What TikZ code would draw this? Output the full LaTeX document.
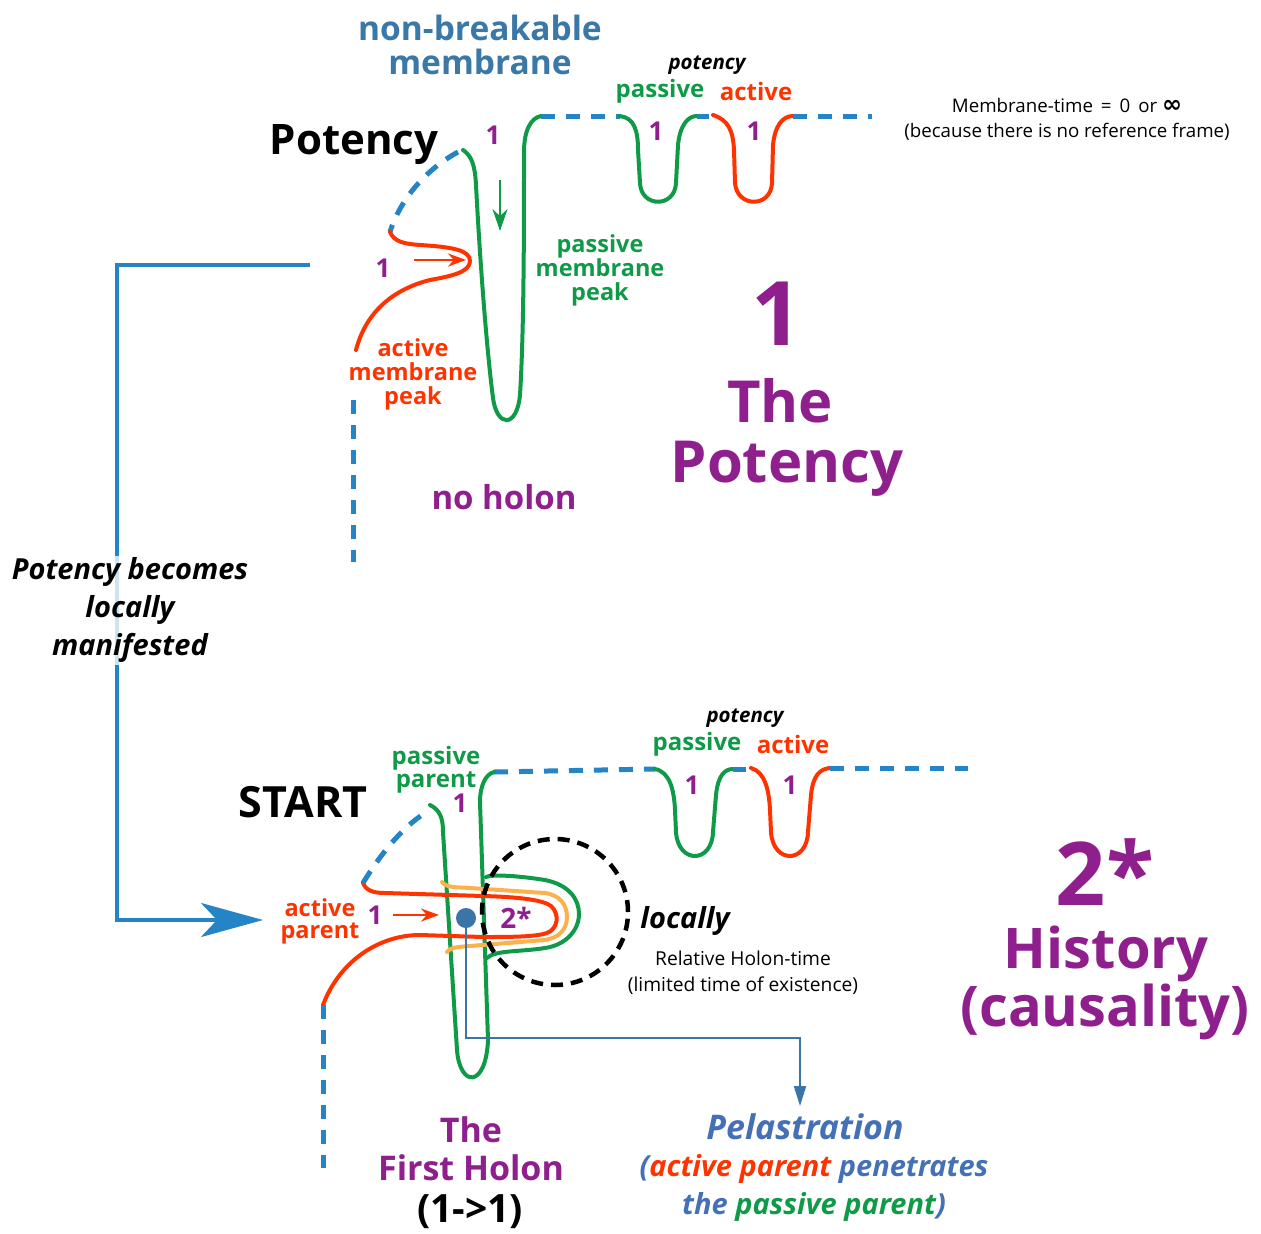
\documentclass[tikz,border=0pt]{standalone}
\usepackage{fontspec}
\setmainfont{Open Sans}
\newfontfamily\dejavu{DejaVu Sans}
\usetikzlibrary{arrows.meta}
\definecolor{cgreen}{HTML}{0F9A48}
\definecolor{cred}{HTML}{FF3300}
\definecolor{cpurple}{HTML}{901F8E}
\definecolor{cdash}{HTML}{2484C5}
\definecolor{ctitle}{HTML}{3A78A8}
\definecolor{corange}{HTML}{FBB24C}
\definecolor{cdot}{HTML}{3B74A6}
\definecolor{cpel}{HTML}{4470B6}
\newcommand\fsz[2]{\fontsize{#1}{#2}\selectfont}
\tikzset{
  lbl/.style={inner sep=0pt, align=center},
  memb/.style={line width=4pt, line cap=round},
  dmemb/.style={line width=5pt, cdash, dash pattern=on 14pt off 11pt},
  smallarrow/.style={line width=2.2pt, -{Stealth[length=18pt,width=13pt]}},
}
\begin{document}
\begin{tikzpicture}[x=1pt,y=-1pt]
\useasboundingbox (0,0) rectangle (1261,1234);

% ---------------- TOP: potency ----------------
\node[lbl, text=ctitle, font=\fsz{33.5}{34}\bfseries] (nbm) at (480,45) {non-breakable\\membrane};
\node[lbl, font=\fsz{42}{44}\bfseries] (potency) at (354,145) {Potency};
\node[lbl, text=cpurple, font=\fsz{26}{28}\bfseries] (one1) at (493,135) {1};

% passive membrane peak
\draw[memb, cgreen] (463,150) .. controls (472,156) and (475,166) .. (476,185)
  .. controls (481,280) and (488,360) .. (493,398)
  .. controls (497,428) and (517,428) .. (520,395)
  .. controls (524,330) and (524,230) .. (524,152)
  .. controls (524,130) and (531,118) .. (541,116);
\coordinate (gtop) at (541,116);
\coordinate (gu1) at (620,116);
\draw[dmemb] (gtop) -- (gu1);
% potency U's
\draw[memb, cgreen] (gu1) .. controls (634,118) and (638,130) .. (638,150) -- (640,183)
  .. controls (641,208) and (675,208) .. (676,183) -- (678,145)
  .. controls (680,125) and (688,116) .. (697,116) coordinate (gu2);
\coordinate (ru1) at (713,115);
\draw[line width=5pt, cdash] (gu2) -- (709,116);
\draw[memb, cred] (ru1) .. controls (728,120) and (733,130) .. (734,150) -- (735,183)
  .. controls (737,208) and (771,208) .. (772,183) -- (773,145)
  .. controls (775,125) and (783,116) .. (793,116) coordinate (ru2);
\coordinate (tend) at (872,116);
\draw[dmemb] (ru2) -- (tend);
\node[lbl, text=cpurple, font=\fsz{26}{28}\bfseries] (one2) at (656,131) {1};
\node[lbl, text=cpurple, font=\fsz{26}{28}\bfseries] (one3) at (754,131) {1};
\node[lbl, font=\fsz{20.5}{22}\bfseries\itshape] (potsm) at (707,65) {potency};
\node[lbl, text=cgreen, font=\fsz{24}{24}\bfseries] (pas1) at (660,91) {passive};
\node[lbl, text=cred, font=\fsz{24}{24}\bfseries] (act1) at (756,91) {active};

% active membrane peak
\coordinate (arcA) at (458,152);
\coordinate (arcB) at (390,232);
\draw[dmemb] (arcA) .. controls (425,170) and (400,200) .. (arcB);
\coordinate (redend) at (356,350);
\draw[memb, cred] (arcB) .. controls (394,242) and (405,244) .. (420,245)
  .. controls (452,247) and (470,250) .. (470,261)
  .. controls (470,272) and (452,276) .. (430,280)
  .. controls (390,290) and (365,315) .. (redend);
\coordinate (vd1) at (353,400);
\coordinate (vd2) at (353,562);
\draw[dmemb] (vd1) -- (vd2);
\coordinate (ra1) at (414,260);
\coordinate (ra2) at (466,260);
\draw[smallarrow, cred] (ra1) -- (ra2);
\node[lbl, text=cpurple, font=\fsz{26}{28}\bfseries] (one4) at (383,268) {1};
\coordinate (ga1) at (500,180);
\coordinate (ga2) at (500,231);
\draw[line width=2.2pt, cgreen, -{Stealth[length=22pt,width=15pt]}] (ga1) -- (ga2);

\node[lbl, text=cgreen, font=\fsz{23.5}{24}\bfseries] (pmp) at (600,270) {passive\\membrane\\peak};
\node[lbl, text=cred, font=\fsz{23.5}{24}\bfseries] (amp) at (413,374) {active\\membrane\\peak};
\node[lbl, text=cpurple, font=\fsz{33}{34}\bfseries] (noholon) at (504,497) {no holon};

\node[lbl, text=cpurple, font=\fsz{89}{90}\bfseries, anchor=base] (bigone) at (777,345) {1};
\node[lbl, text=cpurple, font=\fsz{58}{62}\bfseries, anchor=base] (the1) at (780,422) {The};
\node[lbl, text=cpurple, font=\fsz{58}{62}\bfseries, anchor=base] (pot1) at (787,482) {Potency};

\node[lbl, font=\fsz{18.7}{25}] (mtime) at (1067,119) {Membrane-time \,=\, 0 \,or {\dejavu\bfseries\fontsize{24}{25}\selectfont ∞}\\(because there is no reference frame)};

% ---------------- connector ----------------
\coordinate (cstart) at (310,265);
\coordinate (cend) at (263,920);
\draw[line width=4pt, cdash, -{Stealth[length=62pt,width=34pt,inset=16pt]}]
  (cstart) -- (117,265) -- (117,920) -- (cend);
\node[lbl, font=\fsz{29}{38}\bfseries\itshape, fill=white, fill opacity=0.78, text opacity=1, inner sep=2pt] (pbl) at (130,610)
  {Potency becomes\\locally\\manifested};

% ---------------- BOTTOM: start ----------------
\node[lbl, font=\fsz{43}{44}\bfseries] (start) at (303,802) {START};
\node[lbl, text=cgreen, font=\fsz{24}{23}\bfseries] (pp) at (436,770) {passive\\parent};
\node[lbl, text=cpurple, font=\fsz{26}{28}\bfseries] (one5) at (460,803) {1};

\coordinate (bu0) at (494,772);
\coordinate (bu1) at (655,769);
\draw[dmemb] (bu0) -- (bu1);
\draw[memb, cgreen] (bu1) .. controls (670,772) and (674,790) .. (675,810) -- (676,832)
  .. controls (678,864) and (712,864) .. (713,832) -- (716,795)
  .. controls (718,775) and (725,769) .. (733,769) coordinate (bu2);
\coordinate (bu3) at (751,768);
\draw[line width=5pt, cdash] (bu2) -- (746,769);
\draw[memb, cred] (bu3) .. controls (765,772) and (769,790) .. (770,810) -- (771,832)
  .. controls (773,864) and (807,864) .. (808,832) -- (811,795)
  .. controls (813,775) and (820,769) .. (830,768) coordinate (bu4);
\coordinate (bend) at (968,768);
\draw[dmemb] (bu4) -- (bend);
\node[lbl, text=cpurple, font=\fsz{26}{28}\bfseries] (one6) at (692,785) {1};
\node[lbl, text=cpurple, font=\fsz{26}{28}\bfseries] (one7) at (790,785) {1};
\node[lbl, font=\fsz{20.5}{22}\bfseries\itshape] (potsm2) at (745,718) {potency};
\node[lbl, text=cgreen, font=\fsz{24}{24}\bfseries] (pas2) at (697,744) {passive};
\node[lbl, text=cred, font=\fsz{24}{24}\bfseries] (act2) at (793,744) {active};

% passive parent
\draw[memb, cgreen] (430,805) .. controls (440,810) and (443,818) .. (443,832) -- (457,1050)
  .. controls (460,1088) and (486,1088) .. (488,1040) -- (480,802)
  .. controls (480,785) and (486,774) .. (bu0);
% orange holon
\draw[line width=4pt, corange, line cap=round] (442,882) .. controls (447,888) and (455,887) .. (470,888) -- (545,893)
  .. controls (560,895) and (567,905) .. (567,917) .. controls (567,930) and (558,938) .. (545,940)
  -- (470,946) .. controls (455,947) and (450,948) .. (447,952);
% active parent
\coordinate (barcA) at (363,883);
\coordinate (barcB) at (422,815);
\coordinate (bredend) at (323,1005);
\draw[memb, cred] (barcA) .. controls (366,890) and (372,893) .. (385,893) -- (483,896)
  .. controls (520,897) and (543,900) .. (551,906)
  .. controls (560,914) and (558,929) .. (547,933)
  .. controls (535,937) and (510,937) .. (483,937) -- (420,935)
  .. controls (380,935) and (340,960) .. (bredend);
% green bulge
\draw[memb, cgreen] (486,877) .. controls (492,874) and (520,876) .. (545,880)
  .. controls (570,885) and (579,900) .. (579,914) .. controls (579,930) and (566,945) .. (545,948)
  .. controls (520,952) and (495,950) .. (487,958);
\draw[dmemb] (barcA) .. controls (380,855) and (400,830) .. (barcB);
\coordinate (bvd) at (323,1168);
\draw[dmemb] (bredend) -- (bvd);

% locally circle
\node[draw, circle, minimum size=146pt, line width=4.5pt, dash pattern=on 12pt off 8pt, inner sep=0pt] (loc) at (555,912) {};

\coordinate (rb1) at (393,915);
\coordinate (rb2) at (439,915);
\draw[smallarrow, cred] (rb1) -- (rb2);
\node[lbl, text=cpurple, font=\fsz{26}{28}\bfseries] (one8) at (375,915) {1};
\node[lbl, text=cred, font=\fsz{23.5}{22}\bfseries] (ap) at (320,921) {active\\parent};
\node[lbl, text=cpurple, font=\fsz{28}{28}\bfseries] (twostar) at (516,918) {2*};

\node[circle, fill=cdot, minimum size=20pt, inner sep=0pt] (dot) at (466,918) {};

\node[lbl, font=\fsz{29}{32}\bfseries\itshape] (locally) at (685,921) {locally};
\node[lbl, font=\fsz{19.2}{26}] (rel) at (743,973) {Relative Holon-time\\(limited time of existence)};

\node[lbl, text=cpurple, font=\fsz{88}{88}\bfseries, anchor=base] (bigtwo) at (1105,905) {2*};
\node[lbl, text=cpurple, font=\fsz{56}{62}\bfseries, anchor=base] (hist) at (1106,968) {History};
\node[lbl, text=cpurple, font=\fsz{56}{62}\bfseries, anchor=base] (caus) at (1105,1026) {(causality)};

\node[lbl, text=cpurple, font=\fsz{34}{38}\bfseries] (fh) at (471,1149) {The\\First Holon};
\node[lbl, font=\fsz{39}{40}\bfseries] (oneone) at (470,1212) {(1->1)};

\node[lbl, text=cpel, font=\fsz{34}{36}\bfseries\itshape, anchor=north] (pel) at (805,1113) {Pelastration};
\node[lbl, text=cpel, font=\fsz{29}{38}\bfseries\itshape] (pel2) at (814,1188)
  {({\color{cred}active parent} penetrates\\the {\color{cgreen}passive parent})};

\coordinate (peltip) at (800,1106);
\draw[line width=2pt, cdot, -{Triangle[length=20pt,width=12pt]}] (dot) -- (466,1038) -| (peltip);
\end{tikzpicture}
\end{document}
